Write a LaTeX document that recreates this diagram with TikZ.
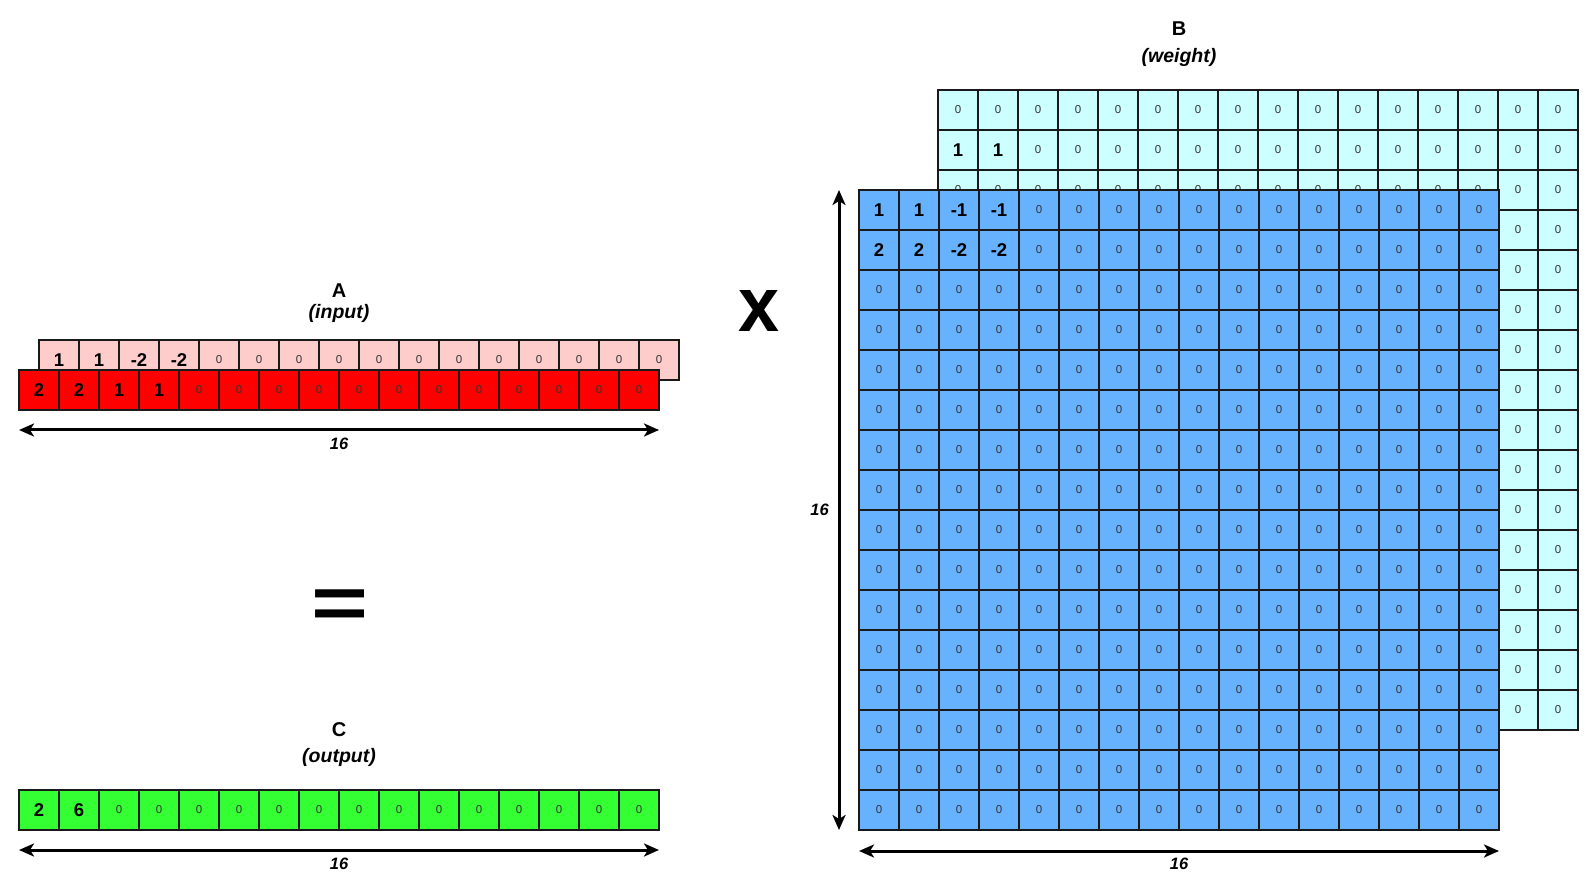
\documentclass[tikz,border=0pt]{standalone}
\usepackage{fontspec}
\setmainfont{Liberation Sans}
\usetikzlibrary{arrows.meta}
\definecolor{cred}{HTML}{FF0000}
\definecolor{cpink}{HTML}{FFCCCC}
\definecolor{cgreen}{HTML}{33FF33}
\definecolor{ccyan}{HTML}{CCFFFF}
\definecolor{cblue}{HTML}{66B2FF}
\newcommand\cv[1]{\ifnum#1=0 {\color{black!80}\fontsize{11.5}{11.5}\selectfont 0}\else{\color{black}\fontsize{18.5}{18.5}\selectfont\bfseries #1}\fi}
\begin{document}
\begin{tikzpicture}[x=1pt,y=-1pt,
  cell/.style={draw=black!90, line width=1.5pt, minimum width=40pt, minimum height=40pt,
    inner sep=0pt, outer sep=0pt, anchor=north west},
  title/.style={font=\fontsize{20}{20}\selectfont\bfseries, inner sep=0pt},
  subtitle/.style={font=\fontsize{19.5}{19.5}\selectfont\bfseries\itshape, inner sep=0pt},
  dimlabel/.style={font=\fontsize{16.5}{16.5}\selectfont\bfseries\itshape, inner sep=0pt},
  dim/.style={line width=3pt, {Stealth[length=15pt,width=13pt,inset=4pt]}-{Stealth[length=15pt,width=13pt,inset=4pt]}}
]
\useasboundingbox (0,0) rectangle (1591,890);

% ---- A (input) ----
\foreach \v [count=\i from 0] in {1,1,-2,-2,0,0,0,0,0,0,0,0,0,0,0,0}
  \node[cell, fill=cpink] (p\i) at ({39+40*\i},340) {\cv{\v}};
\foreach \v [count=\i from 0] in {2,2,1,1,0,0,0,0,0,0,0,0,0,0,0,0}
  \node[cell, fill=cred] (r\i) at ({19+40*\i},370) {\cv{\v}};
\node[title] (Alab) at (339,291) {A};
\node[subtitle] (Asub) at (339,313) {(input)};
\coordinate (aL) at (19,430);
\coordinate (aR) at (659,430);
\draw[dim] (aL) -- (aR);
\node[dimlabel] (a16) at (339,444) {16};

% ---- operators ----
\node[inner sep=0pt] (times) at (759.5,311) {\resizebox{41pt}{41pt}{\bfseries x}};
\node[inner sep=0pt] (equals) at (339.5,609.4) {\resizebox{57pt}{38.7pt}{\bfseries =}};

% ---- C (output) ----
\foreach \v [count=\i from 0] in {2,6,0,0,0,0,0,0,0,0,0,0,0,0,0,0}
  \node[cell, fill=cgreen] (g\i) at ({19+40*\i},790) {\cv{\v}};
\node[title] (Clab) at (339,730) {C};
\node[subtitle] (Csub) at (339,757) {(output)};
\coordinate (cL) at (19,850);
\coordinate (cR) at (659,850);
\draw[dim] (cL) -- (cR);
\node[dimlabel] (c16) at (339,864) {16};

% ---- B (weight) back layer ----
\foreach \r in {0,...,15}
  \foreach \c in {0,...,15} {
    \def\val{0}
    \ifnum\r=1 \ifnum\c<2 \def\val{1}\fi\fi
    \node[cell, fill=ccyan] (bb-\r-\c) at ({938+40*\c},{90+40*\r}) {\cv{\val}};
  }
% ---- B front layer ----
\foreach \r in {0,...,15}
  \foreach \c in {0,...,15} {
    \def\val{0}
    \ifnum\r=0 \ifnum\c<2 \def\val{1}\else\ifnum\c<4 \def\val{-1}\fi\fi\fi
    \ifnum\r=1 \ifnum\c<2 \def\val{2}\else\ifnum\c<4 \def\val{-2}\fi\fi\fi
    \node[cell, fill=cblue] (bf-\r-\c) at ({859+40*\c},{190+40*\r}) {\cv{\val}};
  }
\node[title] (Blab) at (1179,29) {B};
\node[subtitle] (Bsub) at (1179,57) {(weight)};
\coordinate (bL) at (859,851);
\coordinate (bR) at (1499,851);
\draw[dim] (bL) -- (bR);
\node[dimlabel] (b16) at (1179,864) {16};
\coordinate (bT) at (839,190);
\coordinate (bB) at (839,830);
\draw[dim] (bT) -- (bB);
\node[dimlabel] (bv16) at (819.5,510) {16};
\end{tikzpicture}
\end{document}
